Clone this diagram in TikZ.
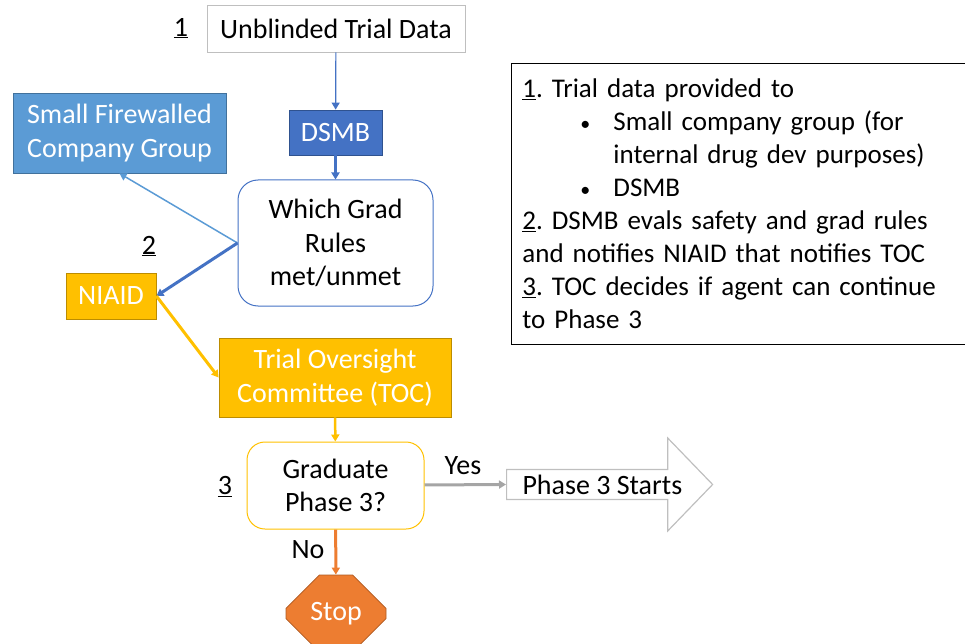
\documentclass[tikz,border=0pt]{standalone}
\usepackage{fontspec}
\setmainfont{Carlito}
\usetikzlibrary{arrows.meta,shapes.arrows,shapes.misc}
\definecolor{dsmbblue}{HTML}{4472C4}
\definecolor{dsmbedge}{HTML}{2F528F}
\definecolor{fwblue}{HTML}{5B9BD5}
\definecolor{fwedge}{HTML}{41719C}
\definecolor{gold}{HTML}{FFC000}
\definecolor{goldedge}{HTML}{BC8C00}
\definecolor{stoporange}{HTML}{ED7D31}
\definecolor{stopedge}{HTML}{AE5A21}
\definecolor{linegray}{HTML}{A5A5A5}
\definecolor{boxgray}{HTML}{BFBFBF}
\frenchspacing
\begin{document}
\begin{tikzpicture}[x=1pt,y=-1pt,
	every node/.style={font=\fontsize{28}{33.5}\selectfont, align=center, inner sep=2pt},
	solidbox/.style={draw, text=white, line width=0.8pt},
	flowline/.style={-{Triangle[length=7pt,width=8pt]}, line width=#1},
	flowline/.default=2.5pt]
	\useasboundingbox (0,0) rectangle (965,644);

	\node[draw=boxgray, line width=0.8pt, minimum width=258, minimum height=47] (data) at (336,28.5) {Unblinded Trial Data};
	\node[solidbox, fill=dsmbblue, draw=dsmbedge, minimum width=93, minimum height=45] (dsmb) at (335.5,132.5) {DSMB};
	\node[draw=dsmbblue, line width=1pt, rounded corners=20pt, minimum width=195, minimum height=126] (rules) at (335.5,243) {Which Grad\\Rules\\met/unmet};
	\node[solidbox, fill=fwblue, draw=fwedge, minimum width=213, minimum height=80] (firewall) at (119.5,133) {Small Firewalled\\Company Group};
	\node[solidbox, fill=gold, draw=goldedge, minimum width=90, minimum height=46] (niaid) at (111,296) {NIAID};
	\node[solidbox, fill=gold, draw=goldedge, minimum width=232, minimum height=79] (toc) at (335,377.5) {Trial Oversight\\Committee (TOC)};
	\node[draw=gold, line width=1pt, rounded corners=18pt, minimum width=177, minimum height=87] (grad) at (335.5,485.5) {Graduate\\Phase 3?};
	\node[single arrow, draw=boxgray, line width=1.2pt, minimum height=206, minimum width=93, single arrow head extend=24, single arrow tip angle=92, inner ysep=1pt, anchor=tail] (start) at (506,484.5) {Phase 3 Starts};
	\node[chamfered rectangle, chamfered rectangle xsep=20pt, chamfered rectangle ysep=20pt, solidbox, fill=stoporange, draw=stopedge, minimum width=100, minimum height=77] (stop) at (336,613.5) {Stop};

	\node (num1) at (181,28) {\underline{1}};
	\node (num2) at (149,246) {\underline{2}};
	\node (num3) at (225,487) {\underline{3}};
	\node (yes) at (463,466) {Yes};
	\node (no) at (308,550) {No};

	\node[draw, line width=0.8pt, anchor=north west, align=left, font=\fontsize{27}{33}\selectfont, text width=436, inner xsep=11pt, inner ysep=3pt, minimum height=281] (notes) at (511,63) {\underline{1}. Trial data provided to\\
		\hspace*{58pt}\makebox[33pt][l]{\fontsize{20}{33}\selectfont\textbullet}Small company group (for\\
		\hspace*{91pt}internal drug dev purposes)\\
		\hspace*{58pt}\makebox[33pt][l]{\fontsize{20}{33}\selectfont\textbullet}DSMB\\
		\underline{2}. DSMB evals safety and grad rules\\
		and notifies NIAID that notifies TOC\\
		\underline{3}. TOC decides if agent can continue\\
		to Phase 3};

	\draw[flowline=1.2pt, dsmbblue] (data) -- (dsmb);
	\draw[flowline, dsmbblue] (dsmb) -- (rules);
	\draw[flowline=1.5pt, fwblue] (rules.west) -- (firewall.south);
	\draw[flowline=3pt, dsmbblue] (rules.west) -- (niaid.east);
	\draw[flowline=3pt, gold] (niaid.east) -- (toc.west);
	\draw[flowline, gold] (toc) -- (grad);
	\draw[flowline=3pt, linegray] (grad) -- (start.tail);
	\draw[flowline=3pt, stoporange] (grad) -- (stop);
\end{tikzpicture}
\end{document}
